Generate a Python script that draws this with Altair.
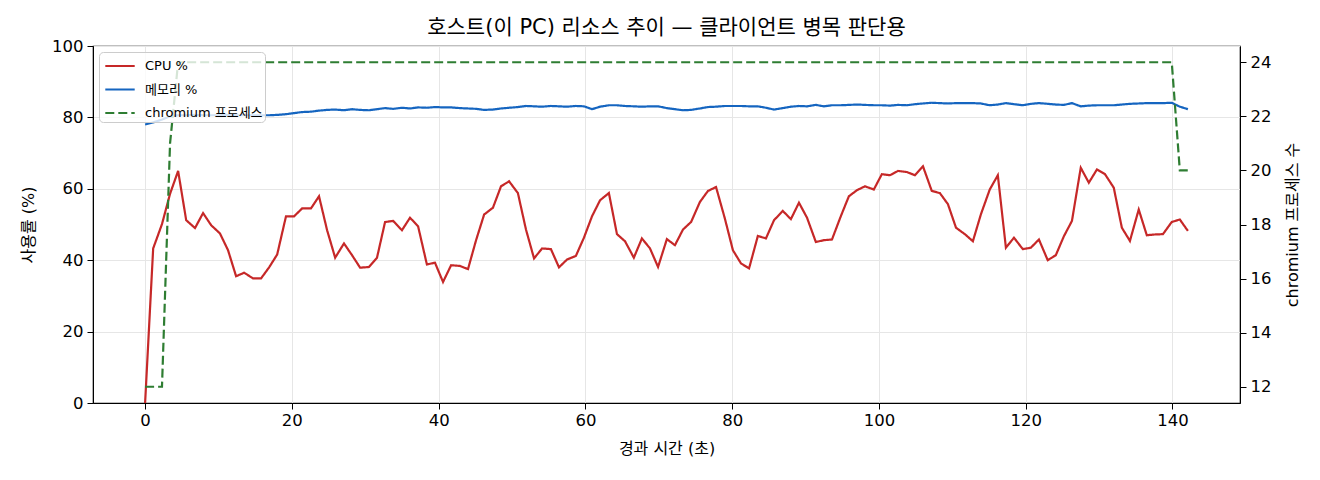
import altair as alt
import pandas as pd

# elapsed seconds (one sample per ~1.13 s)
times = [
    0.0, 1.1, 2.3, 3.4, 4.5, 5.6, 6.8, 7.9, 9.0, 10.2,
    11.3, 12.4, 13.5, 14.7, 15.8, 16.9, 18.0, 19.2, 20.3, 21.4,
    22.6, 23.7, 24.8, 25.9, 27.1, 28.2, 29.3, 30.5, 31.6, 32.7,
    33.8, 35.0, 36.1, 37.2, 38.4, 39.5, 40.6, 41.7, 42.9, 44.0,
    45.1, 46.2, 47.4, 48.5, 49.6, 50.8, 51.9, 53.0, 54.1, 55.3,
    56.4, 57.5, 58.7, 59.8, 60.9, 62.0, 63.2, 64.3, 65.4, 66.6,
    67.7, 68.8, 69.9, 71.1, 72.2, 73.3, 74.4, 75.6, 76.7, 77.8,
    79.0, 80.1, 81.2, 82.3, 83.5, 84.6, 85.7, 86.9, 88.0, 89.1,
    90.2, 91.4, 92.5, 93.6, 94.8, 95.9, 97.0, 98.1, 99.3, 100.4,
    101.5, 102.6, 103.8, 104.9, 106.0, 107.2, 108.3, 109.4, 110.5, 111.7,
    112.8, 113.9, 115.1, 116.2, 117.3, 118.4, 119.6, 120.7, 121.8, 123.0,
    124.1, 125.2, 126.3, 127.5, 128.6, 129.7, 130.8, 132.0, 133.1, 134.2,
    135.4, 136.5, 137.6, 138.7, 139.9, 141.0, 142.1,
]

cpu = [
    0.0, 43.3, 50.1, 58.6, 65.0, 51.2, 49.0, 53.2, 49.8, 47.5,
    42.8, 35.5, 36.5, 34.9, 34.9, 38.0, 41.6, 52.3, 52.3, 54.5,
    54.5, 57.9, 48.4, 40.7, 44.7, 41.4, 37.9, 38.1, 40.7, 50.7,
    51.0, 48.4, 51.9, 49.5, 38.8, 39.3, 33.9, 38.6, 38.4, 37.5,
    45.6, 52.8, 54.7, 60.7, 62.1, 58.8, 48.6, 40.5, 43.3, 43.1,
    38.0, 40.2, 41.2, 46.3, 52.3, 56.8, 58.8, 47.3, 45.3, 40.7,
    46.1, 43.3, 38.1, 45.9, 44.2, 48.6, 50.7, 56.3, 59.4, 60.5,
    51.7, 42.8, 39.1, 37.7, 46.8, 46.1, 51.2, 53.8, 51.5, 56.1,
    51.9, 45.1, 45.6, 45.8, 52.3, 57.9, 59.6, 60.7, 59.8, 64.1,
    63.8, 65.0, 64.7, 63.8, 66.3, 59.4, 58.8, 55.7, 49.1, 47.3,
    45.3, 52.9, 59.8, 63.8, 43.5, 46.3, 43.1, 43.5, 45.8, 40.0,
    41.4, 46.7, 51.0, 65.9, 61.7, 65.4, 64.1, 60.3, 49.1, 45.4,
    54.2, 47.0, 47.2, 47.3, 50.7, 51.4, 48.2,
]

memory = [
    78.0, 78.6, 79.4, 80.3, 80.6, 80.6, 80.7, 80.6, 80.6, 80.6,
    80.7, 80.6, 80.6, 80.6, 80.6, 80.6, 80.7, 80.9, 81.2, 81.5,
    81.6, 81.9, 82.1, 82.2, 82.0, 82.3, 82.1, 82.0, 82.3, 82.6,
    82.4, 82.7, 82.5, 82.8, 82.7, 82.9, 82.8, 82.8, 82.6, 82.5,
    82.4, 82.1, 82.2, 82.5, 82.7, 82.9, 83.2, 83.1, 83.0, 83.2,
    83.1, 83.0, 83.2, 83.1, 82.3, 83.0, 83.4, 83.4, 83.2, 83.1,
    83.0, 83.1, 83.1, 82.6, 82.3, 82.0, 82.1, 82.5, 82.9, 83.0,
    83.2, 83.2, 83.2, 83.1, 83.1, 82.7, 82.2, 82.6, 83.0, 83.2,
    83.1, 83.5, 83.1, 83.4, 83.4, 83.5, 83.6, 83.5, 83.4, 83.4,
    83.3, 83.5, 83.4, 83.7, 83.9, 84.1, 84.0, 83.9, 84.0, 84.0,
    84.0, 83.9, 83.4, 83.6, 84.0, 83.7, 83.4, 83.8, 84.0, 83.8,
    83.6, 83.5, 84.0, 83.1, 83.3, 83.4, 83.4, 83.4, 83.6, 83.8,
    83.9, 84.0, 84.0, 84.0, 84.1, 83.0, 82.3,
]

chromium = [12, 12, 12, 21] + [24] * 121 + [20, 20]

series_names = ["CPU %", "메모리 %", "chromium 프로세스"]
series_colors = ["#c62828", "#1565c0", "#2e7d32"]
series_dash = [[1, 0], [1, 0], [9, 4]]

FONT = "DejaVu Sans, Noto Sans CJK KR"

pct_df = pd.concat([
    pd.DataFrame({"t": times, "value": cpu, "series": series_names[0]}),
    pd.DataFrame({"t": times, "value": memory, "series": series_names[1]}),
])
chr_df = pd.DataFrame({"t": times, "value": chromium, "series": series_names[2]})

color_scale = alt.Scale(domain=series_names, range=series_colors)
dash_scale = alt.Scale(domain=series_names, range=series_dash)

x_enc = alt.X("t:Q",
              scale=alt.Scale(domain=[-7.1, 149.2], nice=False, zero=False),
              axis=alt.Axis(values=list(range(0, 141, 20)), title="경과 시간 (초)",
                            grid=True, labelPadding=3, titlePadding=12))

left = alt.Chart(pct_df).mark_line(strokeWidth=2.2).encode(
    x=x_enc,
    y=alt.Y("value:Q",
            scale=alt.Scale(domain=[0, 100], nice=False),
            axis=alt.Axis(values=list(range(0, 101, 20)), title="사용률 (%)",
                          grid=True, titlePadding=15)),
    color=alt.Color("series:N", scale=color_scale, title=None),
    strokeDash=alt.StrokeDash("series:N", scale=dash_scale, title=None),
    detail="series:N",
)

right = alt.Chart(chr_df).mark_line(strokeWidth=2.2).encode(
    x=x_enc,
    y=alt.Y("value:Q",
            scale=alt.Scale(domain=[11.4, 24.6], nice=False, zero=False),
            axis=alt.Axis(orient="right", values=list(range(12, 25, 2)),
                          title="chromium 프로세스 수", grid=False,
                          titleAngle=270, titleBaseline="top", titlePadding=14)),
    color=alt.Color("series:N", scale=color_scale, title=None),
    strokeDash=alt.StrokeDash("series:N", scale=dash_scale, title=None),
)

chart = alt.layer(left, right).resolve_scale(y="independent").properties(
    width=1147,
    height=357,
    autosize=alt.AutoSizeParams(type="none"),
    padding={"left": 85, "top": 38, "right": 72, "bottom": 69},
    title=alt.Title("호스트(이 PC) 리소스 추이 — 클라이언트 병목 판단용",
                    font=FONT, fontSize=21, fontWeight="normal", color="black",
                    frame="group", offset=0),
).configure_view(
    stroke="black", strokeWidth=1.2
).configure_axis(
    labelFont=FONT, labelFontSize=16.5, labelColor="black",
    titleFont=FONT, titleFontSize=16, titleFontWeight="normal", titleColor="black",
    tickColor="black", domainColor="black", tickSize=6, labelPadding=4,
    gridColor="#e6e6e6", gridWidth=1,
).configure_legend(
    orient="none", legendX=6, legendY=6,
    labelFont=FONT, labelFontSize=13, labelColor="black",
    symbolType="M-1.4,0H1.4", symbolSize=441, symbolStrokeWidth=2.2,
    symbolOffset=7, labelOffset=13, rowPadding=4.5, padding=2,
    fillColor="rgba(255,255,255,0.8)", strokeColor="#cccccc", cornerRadius=4,
)

chart.save("out.html", embed_options={"renderer": "svg", "actions": False})
